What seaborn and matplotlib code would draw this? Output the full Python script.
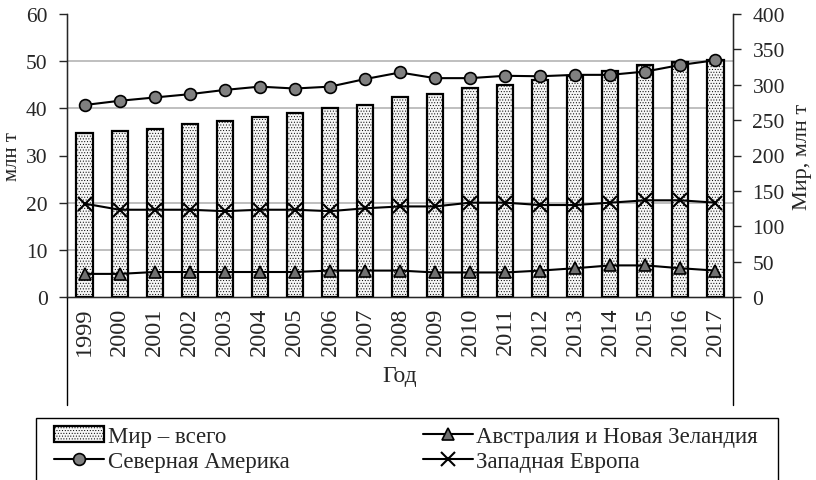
import numpy as np
import matplotlib
matplotlib.use("Agg")
import matplotlib.pyplot as plt
import seaborn as sns
from matplotlib.patches import Rectangle

# Данные (млн т)
years = [str(y) for y in range(1999, 2018)]
world_total = [232, 234, 237, 244, 249, 255, 260, 267, 272, 282,
               287, 295, 300, 307, 313, 320, 328, 332, 335]
north_america = [40.7, 41.6, 42.3, 43.0, 43.9, 44.6, 44.2, 44.6, 46.2, 47.6,
                 46.4, 46.4, 46.9, 46.8, 47.1, 47.1, 47.8, 49.2, 50.2]
australia_nz = [4.9, 4.9, 5.3, 5.3, 5.3, 5.3, 5.3, 5.6, 5.6, 5.6,
                5.2, 5.2, 5.2, 5.6, 6.1, 6.7, 6.7, 6.1, 5.6]
west_europe = [19.8, 18.5, 18.5, 18.5, 18.2, 18.5, 18.5, 18.2, 18.8, 19.2,
               19.2, 20.0, 20.0, 19.5, 19.5, 20.0, 20.5, 20.5, 20.0]

sns.set_style("white")
plt.rcParams["font.family"] = ["Liberation Serif", "DejaVu Serif"]
plt.rcParams["hatch.linewidth"] = 0.4
plt.rcParams["hatch.color"] = "#8c8c8c"

W, H = 816, 481
fig = plt.figure(figsize=(W / 100, H / 100), dpi=100)
x0, x1, ytop, ybot = 67, 733, 15, 298
ax = fig.add_axes([x0 / W, 1 - ybot / H, (x1 - x0) / W, (ybot - ytop) / H])

# 🔹 Столбцы: Мир – всего (правая ось)
sns.barplot(x=years, y=world_total, ax=ax, color="#f6f6f6", width=0.46,
            edgecolor="black", linewidth=1.6, hatch="......", label="Мир – всего",
            zorder=2)
if ax.get_legend():
    ax.get_legend().remove()

# 🔹 Линии (левая ось)
ax2 = ax.twinx()
pos = np.arange(len(years))
sns.lineplot(x=pos, y=north_america, ax=ax2, color="black", linewidth=1.5,
             marker="o", markersize=8.5, markerfacecolor="#808080",
             markeredgecolor="black", markeredgewidth=1.2, label="Северная Америка")
sns.lineplot(x=pos, y=australia_nz, ax=ax2, color="black", linewidth=1.5,
             marker="^", markersize=8.5, markerfacecolor="#707070",
             markeredgecolor="black", markeredgewidth=1.2,
             label="Австралия и Новая Зеландия")
sns.lineplot(x=pos, y=west_europe, ax=ax2, color="black", linewidth=1.5,
             marker="x", markersize=10, markeredgecolor="black",
             markeredgewidth=1.5, label="Западная Европа")
if ax2.get_legend():
    ax2.get_legend().remove()

# правая ось (столбцы)
ax.set_ylim(0, 400)
ax.set_xlim(-0.5, len(years) - 0.5)
ax.yaxis.tick_right()
ax.yaxis.set_label_position("right")
ax.set_yticks(np.arange(0, 401, 50))
ax.set_yticks(np.linspace(0, 400, 7), minor=True)
ax.grid(True, which="minor", axis="y", color="#b4b4b4", linewidth=1.2, zorder=0)
ax.set_axisbelow(True)
ax.tick_params(axis="y", which="major", direction="out", length=6, width=1,
               labelsize=15.5, pad=8, right=True, left=False)
ax.tick_params(axis="y", which="minor", length=0, left=False, right=False)
ax.set_ylabel("Мир, млн т", fontsize=16, labelpad=6)

# ось X: границы категорий
ax.set_xticks(pos)
ax.set_xticklabels(years, rotation=90, fontsize=17.5)
ax.set_xticks(np.arange(-0.5, len(years), 1), minor=True)
ax.tick_params(axis="x", which="major", length=0, pad=7)
ax.tick_params(axis="x", which="minor", direction="out", length=42.5, width=1)
ax.set_xlabel("Год", fontsize=17, labelpad=3)
for xx in (0, 1):
    ax.plot([xx, xx], [0, -(406 - 298) / (ybot - ytop)], transform=ax.transAxes,
            color="black", linewidth=1, clip_on=False)

ax.spines["top"].set_visible(False)
for s in ("left", "right", "bottom"):
    ax.spines[s].set_color("black")
    ax.spines[s].set_linewidth(1)

# левая ось (линии)
ax2.set_ylim(0, 60)
ax2.set_xlim(-0.5, len(years) - 0.5)
ax2.yaxis.tick_left()
ax2.yaxis.set_label_position("left")
ax2.set_yticks(np.arange(0, 61, 10))
ax2.tick_params(axis="y", direction="out", length=6, width=1, labelsize=15.5,
                pad=8, left=True, right=False)
ax2.set_ylabel("млн т", fontsize=15, labelpad=3)
ax2.spines["top"].set_visible(False)

# 🔹 Легенда (рамка отдельно)
h1, l1 = ax.get_legend_handles_labels()
h2, l2 = ax2.get_legend_handles_labels()
leg = fig.legend(h1 + h2, l1 + l2,
                 loc="upper left", ncol=2, mode="expand",
                 bbox_to_anchor=(54 / W, 0, (758 - 54) / W, (481 - 427) / H),
                 frameon=False, fontsize=16.5, handlelength=2.2,
                 handletextpad=0.15, borderpad=0, labelspacing=0.15,
                 borderaxespad=0)
fig.patches.append(Rectangle((36 / W, -0.02), (778 - 36) / W, (481 - 419) / H + 0.02,
                             transform=fig.transFigure, fill=False,
                             edgecolor="black", linewidth=1))

fig.savefig("out.png", dpi=100)
